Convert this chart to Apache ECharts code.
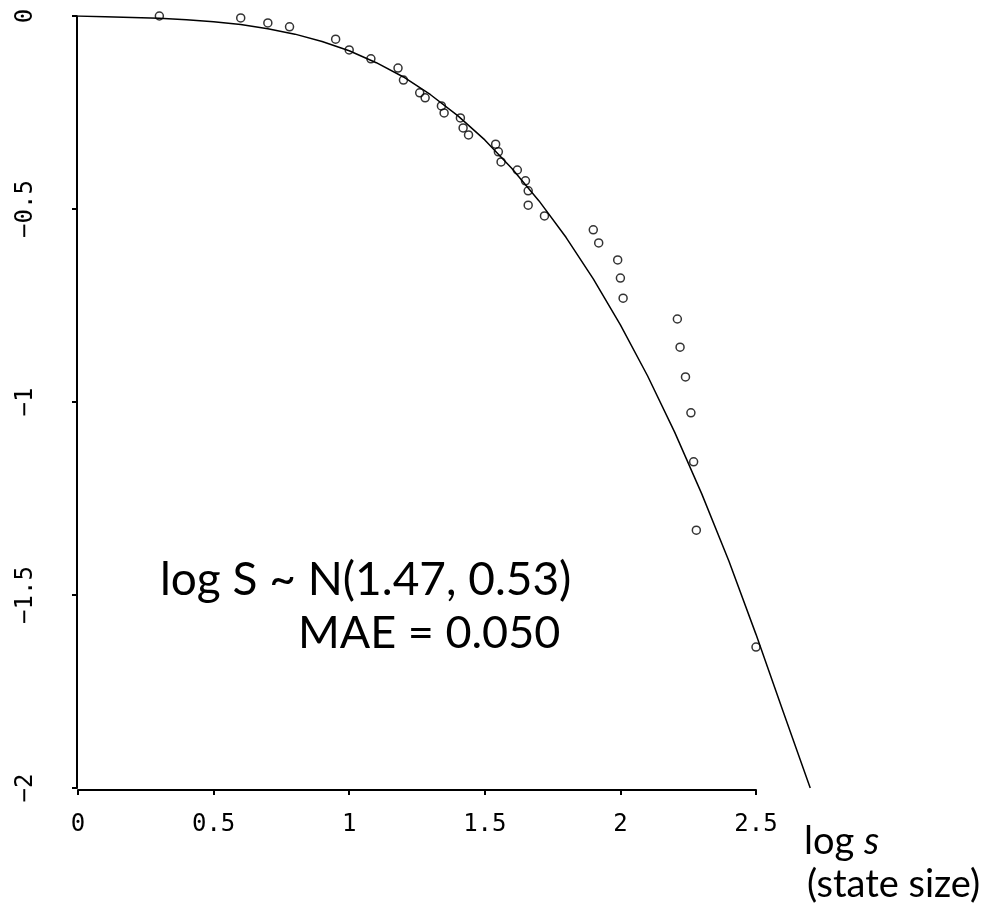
<!DOCTYPE html>
<html>
<head>
<meta charset="utf-8">
<script src="https://cdn.jsdelivr.net/npm/echarts@6/dist/echarts.min.js"></script>
<style>
html,body{margin:0;padding:0;background:#fff;}
#chart{width:1004px;height:905px;}
</style>
</head>
<body>
<div id="chart"></div>
<script>
// Observed points: log s (state size) vs log of survival fraction
const pointX = [0.30, 0.60, 0.70, 0.78, 0.95, 1.00, 1.08, 1.18, 1.20, 1.26, 1.28,
  1.34, 1.35, 1.41, 1.42, 1.44, 1.54, 1.55, 1.56, 1.62, 1.65, 1.66, 1.66, 1.72,
  1.90, 1.92, 1.99, 2.00, 2.01, 2.21, 2.22, 2.24, 2.26, 2.27, 2.28, 2.50];
const pointY = [0.000, -0.005, -0.018, -0.028, -0.060, -0.088, -0.111, -0.135, -0.166, -0.199, -0.212,
  -0.233, -0.251, -0.264, -0.290, -0.308, -0.332, -0.352, -0.378, -0.399, -0.427, -0.453, -0.490, -0.518,
  -0.554, -0.588, -0.632, -0.679, -0.731, -0.785, -0.858, -0.935, -1.028, -1.155, -1.332, -1.635];

// Fitted curve
const curveX = [0.0, 0.1, 0.2, 0.3, 0.4, 0.5, 0.6, 0.7, 0.8, 0.9, 1.0, 1.1, 1.2, 1.3,
  1.4, 1.5, 1.6, 1.7, 1.8, 1.9, 2.0, 2.1, 2.2, 2.3, 2.4, 2.5, 2.6, 2.7];
const curveY = [0.000, -0.002, -0.004, -0.006, -0.010, -0.015, -0.022, -0.033, -0.047, -0.066,
  -0.090, -0.121, -0.158, -0.204, -0.258, -0.321, -0.395, -0.479, -0.574, -0.681, -0.800,
  -0.932, -1.078, -1.238, -1.412, -1.602, -1.802, -2.000];

const xTicks = [0, 0.5, 1, 1.5, 2, 2.5];
const yTicks = [0, -0.5, -1, -1.5, -2];
const curveXMax = 2.7;

const fitLabel = 'log S ~ N(1.47, 0.53)';
const maeLabel = 'MAE = 0.050';
const xName = 'log ';
const xNameVar = 's';
const xSubName = '(state size)';

const chart = echarts.init(document.getElementById('chart'));
const monoFont = '"DejaVu Sans Mono", "Liberation Mono", monospace';
const textFont = 'Lato, "Open Sans", sans-serif';

// Layout: main grid spans x 0..2.5; a second hidden grid with the same scale extends to 2.7
const gridLeft = 78, gridRight = 248, gridTop = 16, gridBottom = 117, W = 1004;
const xMin = xTicks[0], xMax = xTicks[xTicks.length - 1];
const pxPerUnit = (W - gridLeft - gridRight) / (xMax - xMin);
const grid2Right = W - gridLeft - pxPerUnit * (curveXMax - xMin);

chart.setOption({
  backgroundColor: '#fff',
  animation: false,
  grid: [
    { left: gridLeft, right: gridRight, top: gridTop, bottom: gridBottom },
    { left: gridLeft, right: grid2Right, top: gridTop, bottom: gridBottom }
  ],
  xAxis: [{
    type: 'value', gridIndex: 0, min: xMin, max: xMax, interval: 0.5,
    offset: 2,
    splitLine: { show: false },
    axisLine: { onZero: false, lineStyle: { color: '#000', width: 2 } },
    axisTick: { length: 5, lineStyle: { color: '#000', width: 2 } },
    axisLabel: { color: '#000', fontFamily: monoFont, fontSize: 24, margin: 23,
      formatter: v => String(v) }
  }, {
    type: 'value', gridIndex: 1, min: xMin, max: curveXMax, show: false
  }],
  yAxis: [{
    type: 'value', gridIndex: 0, min: yTicks[yTicks.length - 1], max: yTicks[0], interval: 0.5,
    offset: 1,
    splitLine: { show: false },
    axisLine: { onZero: false, lineStyle: { color: '#000', width: 2 } },
    axisTick: { length: 5, lineStyle: { color: '#000', width: 2 } },
    axisLabel: { color: '#000', fontFamily: monoFont, fontSize: 24, margin: 39, rotate: 90,
      formatter: v => String(v).replace('-', '\u2212') }
  }, {
    type: 'value', gridIndex: 1, min: yTicks[yTicks.length - 1], max: yTicks[0], show: false
  }],
  series: [
    {
      type: 'line', xAxisIndex: 1, yAxisIndex: 1, symbol: 'none', silent: true,
      lineStyle: { color: '#000', width: 1.5 },
      data: curveX.map((x, i) => [x, curveY[i]]),
      z: 2
    },
    {
      type: 'scatter', xAxisIndex: 0, yAxisIndex: 0, symbol: 'circle', symbolSize: 8,
      itemStyle: { color: 'rgba(255,255,255,0)', borderColor: '#000', borderWidth: 1.5 },
      data: pointX.map((x, i) => [x, pointY[i]]),
      z: 3
    }
  ],
  graphic: [
    { type: 'text', left: 160, top: 557,
      style: { text: fitLabel, font: '46px ' + textFont, fill: '#000' } },
    { type: 'text', left: 298, top: 611,
      style: { text: maeLabel, font: '45px ' + textFont, fill: '#000' } },
    { type: 'text', left: 804, top: 823,
      style: { text: '{a|' + xName + '}{b|' + xNameVar + '}', fill: '#000',
        rich: { a: { fontSize: 38, fontFamily: 'Lato', color: '#000' },
                b: { fontSize: 38, fontFamily: 'Lato', fontStyle: 'italic', color: '#000' } } } },
    { type: 'text', left: 807, top: 866,
      style: { text: xSubName, font: '38px ' + textFont, fill: '#000' } }
  ]
});
</script>
</body>
</html>
